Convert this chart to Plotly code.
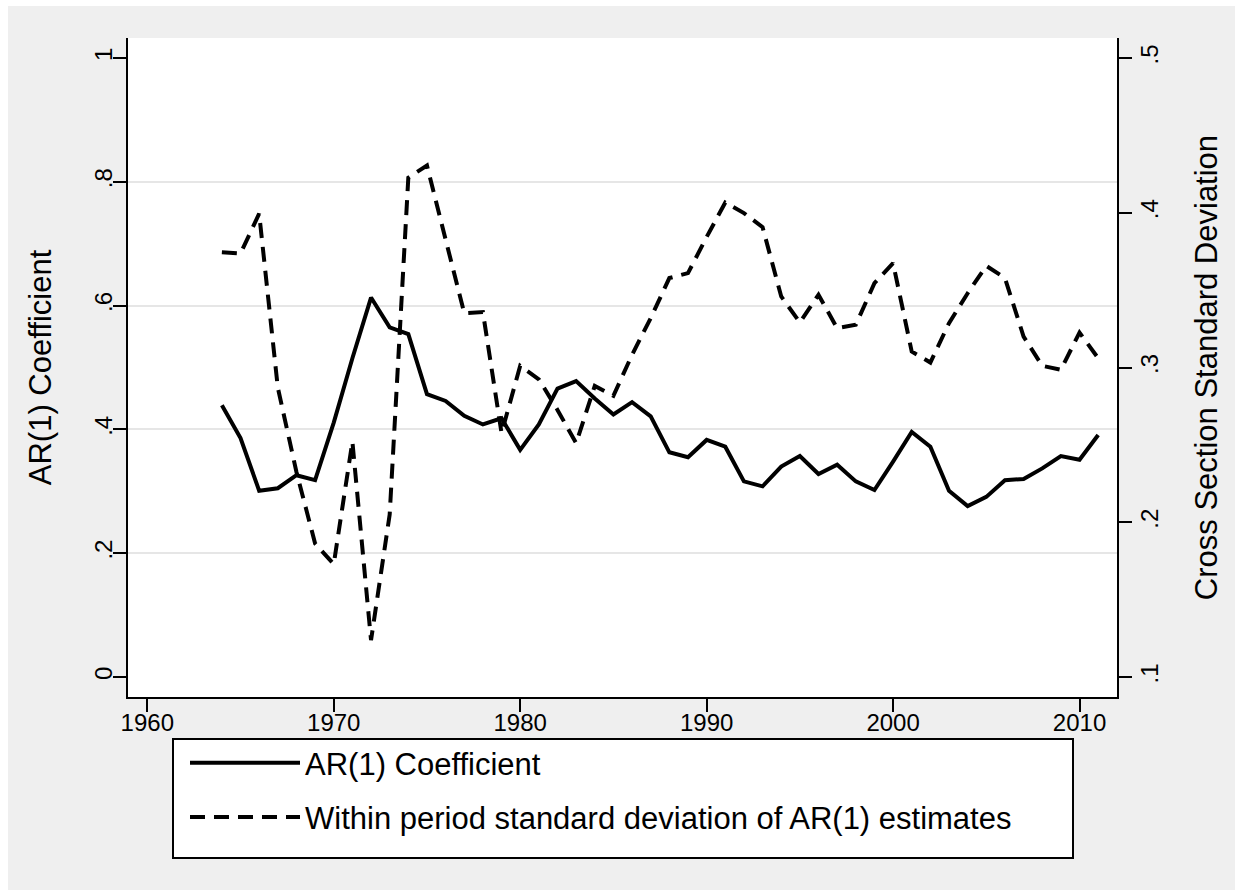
import plotly.graph_objects as go

# Annual series, 1964-2011
years = list(range(1964, 2012))

ar1_coef = [
    0.439, 0.386, 0.301, 0.305, 0.326, 0.318, 0.411, 0.515, 0.613, 0.565,
    0.554, 0.457, 0.446, 0.422, 0.408, 0.418, 0.367, 0.408, 0.466, 0.478,
    0.450, 0.424, 0.444, 0.421, 0.363, 0.355, 0.383, 0.372, 0.316, 0.308,
    0.340, 0.357, 0.328, 0.343, 0.316, 0.302, 0.348, 0.396, 0.372, 0.301,
    0.276, 0.291, 0.318, 0.320, 0.337, 0.357, 0.351, 0.391,
]

ar1_sd = [
    0.3745, 0.3737, 0.3994, 0.2870, 0.2325, 0.1863, 0.1729, 0.2521, 0.1238, 0.2050,
    0.4227, 0.4305, 0.3827, 0.3351, 0.3358, 0.2576, 0.3011, 0.2924, 0.2726, 0.2511,
    0.2881, 0.2817, 0.3082, 0.3319, 0.3578, 0.3610, 0.3843, 0.4066, 0.3998, 0.3907,
    0.3459, 0.3291, 0.3470, 0.3254, 0.3276, 0.3545, 0.3674, 0.3103, 0.3032, 0.3287,
    0.3480, 0.3657, 0.3578, 0.3200, 0.3011, 0.2985, 0.3226, 0.3060,
]

x_ticks = [1960, 1970, 1980, 1990, 2000, 2010]
left_ticks = [0, 0.2, 0.4, 0.6, 0.8, 1]
left_labels = ["0", ".2", ".4", ".6", ".8", "1"]
right_ticks = [0.1, 0.2, 0.3, 0.4, 0.5]
right_labels = [".1", ".2", ".3", ".4", ".5"]
grid_ticks = [0.2, 0.4, 0.6, 0.8]

names = ["AR(1) Coefficient", "Within period standard deviation of AR(1) estimates"]

# page geometry (pixels)
W, H = 1242, 896
ML, MR, MT, MB = 128, 125, 38, 199
PW, PH = W - ML - MR, H - MT - MB


def fx(px):
    return (px - ML) / PW


def fy(py):
    return (H - MB - py) / PH


FONT = "Liberation Sans, Arial, Helvetica, sans-serif"
BG = "#EFEFEF"
GRID = "#E6E6E6"

fig = go.Figure()
fig.add_trace(go.Scatter(
    x=years, y=ar1_coef, mode="lines", name=names[0], yaxis="y",
    legendgroup="g1", line=dict(color="black", width=4),
))
fig.add_trace(go.Scatter(
    x=years, y=ar1_sd, mode="lines", name=names[1], yaxis="y2",
    legendgroup="g2", line=dict(color="black", width=4, dash="15px,9px"),
))
# carrier for the horizontal grid axis
fig.add_trace(go.Scatter(x=[], y=[], yaxis="y3", showlegend=False, hoverinfo="skip"))

pad_l = 0.0323
tick_common = dict(
    ticks="outside", ticklen=13, tickwidth=2, tickcolor="black",
    showline=True, linecolor="black", linewidth=2,
    tickfont=dict(family=FONT, size=24, color="black"),
    zeroline=False,
)

fig.update_layout(
    width=W, height=H,
    margin=dict(l=ML, r=MR, t=MT, b=MB, autoexpand=False),
    paper_bgcolor="white", plot_bgcolor="white",
    font=dict(family=FONT, color="black"),
    showlegend=True,
    xaxis=dict(
        range=[1958.965, 2012.01], tickmode="array", tickvals=x_ticks,
        showgrid=False, ticklabelstandoff=-10, **tick_common,
    ),
    yaxis=dict(
        range=[-pad_l, 1 + pad_l], tickmode="array", tickvals=left_ticks,
        ticktext=left_labels, tickangle=-90, showgrid=False, ticklabelstandoff=-9,
        title=dict(text="AR(1) Coefficient", font=dict(family=FONT, size=31), standoff=30),
        **tick_common,
    ),
    yaxis2=dict(
        range=[0.1 - 0.4 * pad_l, 0.5 + 0.4 * pad_l], overlaying="y", side="right",
        anchor="x", tickmode="array", tickvals=right_ticks, ticktext=right_labels,
        tickangle=-90, showgrid=False, ticklabelstandoff=-3,
        title=dict(text="Cross Section Standard Deviation", font=dict(family=FONT, size=31), standoff=34),
        **tick_common,
    ),
    yaxis3=dict(
        range=[-pad_l, 1 + pad_l], overlaying="y", anchor="x", tickmode="array",
        tickvals=grid_ticks, showticklabels=False, ticks="", showline=False,
        showgrid=True, gridcolor=GRID, gridwidth=2, zeroline=False,
    ),
    legend=dict(
        x=fx(185), y=fy(736), xanchor="left", yanchor="top",
        bgcolor="rgba(0,0,0,0)", borderwidth=0,
        font=dict(family=FONT, size=31, color="black"),
        itemwidth=110, traceorder="grouped", tracegroupgap=11,
    ),
    shapes=[
        # grey outer region
        dict(type="rect", xref="paper", yref="paper", layer="below",
             x0=fx(8), x1=fx(1235), y0=fy(890), y1=fy(6),
             fillcolor=BG, line=dict(width=0)),
        # white plot region
        dict(type="rect", xref="paper", yref="paper", layer="below",
             x0=0, x1=1, y0=0, y1=1, fillcolor="white", line=dict(width=0)),
        # legend frame
        dict(type="rect", xref="paper", yref="paper", layer="below",
             x0=fx(173), x1=fx(1073), y0=fy(858), y1=fy(739),
             fillcolor="white", line=dict(color="black", width=2)),
    ],
)

fig.write_html("out.html")
